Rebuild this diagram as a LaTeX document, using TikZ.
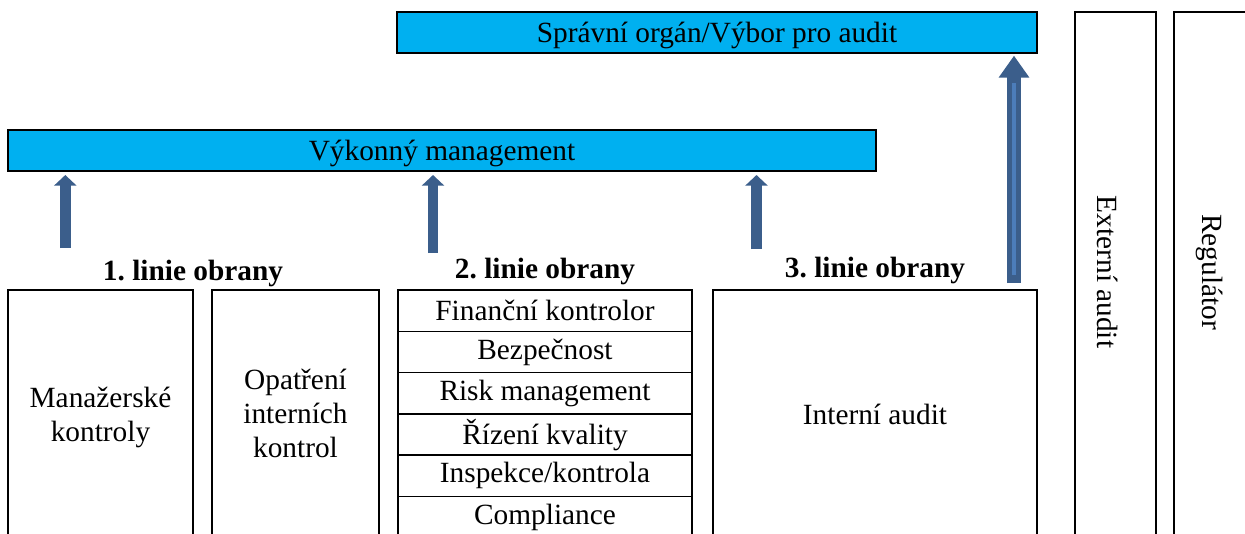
\documentclass[tikz,border=0pt]{standalone}
\usepackage{fontspec}
\setmainfont{Liberation Serif}
\frenchspacing
\usetikzlibrary{arrows.meta,calc}
\definecolor{barcyan}{HTML}{00B0F0}
\definecolor{arrowblue}{HTML}{3B5E8B}
\definecolor{arrowlight}{HTML}{4C7DBA}
\begin{document}
\begin{tikzpicture}[x=0.75pt,y=-0.75pt,
  every node/.style={inner sep=0pt,outer sep=0pt},
  txt/.style={font=\fontsize{22pt}{25.5pt}\selectfont},
  bar/.style={draw=black,line width=2.2pt,fill=barcyan,txt,text depth=0pt,anchor=center},
  plainbox/.style={draw=black,line width=1.5pt,fill=white,anchor=center},
  rowbox/.style={draw=black,line width=1.2pt,minimum width=294*0.75pt,minimum height=41.3*0.75pt,txt},
  heading/.style={font=\fontsize{22pt}{25.5pt}\selectfont\bfseries},
  smallarrow/.style={draw=arrowblue,line width=8pt,-{Triangle[width=16.5pt,length=8pt]},shorten >=3pt},
  bigarrow/.style={draw=arrowblue,line width=10.8pt,-{Triangle[width=22pt,length=16.5pt]},shorten >=2pt},
]
\useasboundingbox (0,0) rectangle (1245,533);
\clip (0,0) rectangle (1245,533);

% governing bodies
\node[bar,minimum width=640*0.75pt,minimum height=41*0.75pt] (board) at (717,32.5) {Správní orgán/Výbor pro audit};
\node[bar,minimum width=868*0.75pt,minimum height=41*0.75pt] (exec) at (442,150.5) {Výkonný management};

% external parties
\node[plainbox,minimum width=81*0.75pt,minimum height=560*0.75pt] (ext) at (1115.5,292) {};
\node[txt,rotate=-90] (extlbl) at (1108,272) {Externí audit};
\node[plainbox,minimum width=90*0.75pt,minimum height=560*0.75pt] (reg) at (1219,292) {};
\node[txt,rotate=-90] (reglbl) at (1210,272) {Regulátor};

% headings
\node[heading] (h1) at (193,273) {1. linie obrany};
\node[heading] (h2) at (545,271) {2. linie obrany};
\node[heading] (h3) at (875,270) {3. linie obrany};

% first line of defence
\node[plainbox,minimum width=185*0.75pt,minimum height=300*0.75pt] (mgr) at (100.5,440) {};
\node[txt,align=center] (mgrlbl) at (100.5,417) {Manažerské\\kontroly};
\node[plainbox,minimum width=167*0.75pt,minimum height=300*0.75pt] (ic) at (295.5,440) {};
\node[txt,align=center] (iclbl) at (295.5,413) {Opatření\\interních\\kontrol};

% second line of defence
\node[rowbox] (r1) at (545,310.7) {Finanční kontrolor};
\node[rowbox,anchor=north] (r2) at (r1.south) {Bezpečnost};
\node[rowbox,anchor=north] (r3) at (r2.south) {Risk management};
\node[rowbox,anchor=north] (r4) at (r3.south) {Řízení kvality};
\node[rowbox,anchor=north] (r5) at (r4.south) {Inspekce/kontrola};
\node[rowbox,anchor=north] (r6) at (r5.south) {Compliance};

% third line of defence
\node[plainbox,minimum width=324*0.75pt,minimum height=300*0.75pt] (ia) at (875,440) {};
\node[txt] (ialbl) at (875,414) {Interní audit};

% reporting arrows
\coordinate (b1) at (65.3,248);
\coordinate (b2) at (433,253);
\coordinate (b3) at (756.5,249);
\coordinate (b4) at (1014,283);
\draw[smallarrow] (b1) -- (b1 |- exec.south);
\draw[smallarrow] (b2) -- (b2 |- exec.south);
\draw[smallarrow] (b3) -- (b3 |- exec.south);
\draw[bigarrow] (b4) -- (b4 |- board.south);
\draw[draw=arrowlight,line width=3.5pt] ($(b4)+(0,-8)$) -- ($(b4 |- board.south)+(0,30)$);
\end{tikzpicture}
\end{document}
